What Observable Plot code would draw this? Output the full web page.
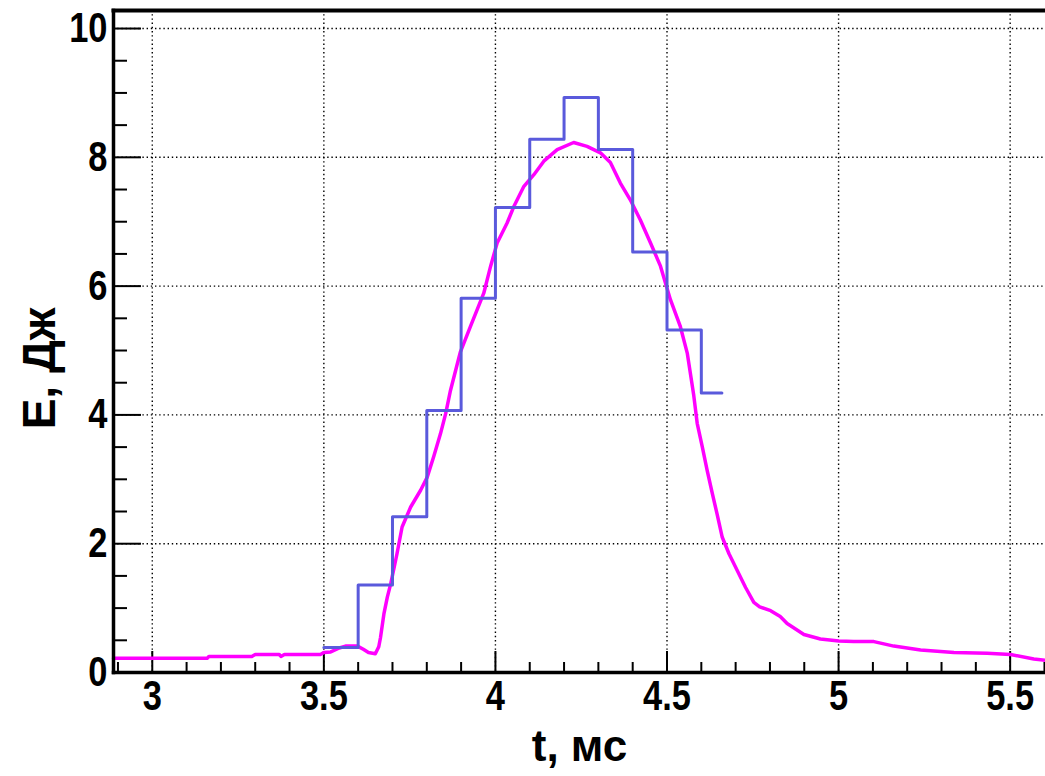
<!DOCTYPE html>
<html>
<head>
<meta charset="utf-8">
<script src="https://cdn.jsdelivr.net/npm/d3@7"></script>
<script src="https://cdn.jsdelivr.net/npm/@observablehq/plot@0.6"></script>
<style>
  html, body { margin: 0; padding: 0; background: #fff; }
  #chart svg { display: block; }
</style>
</head>
<body>
<div id="chart"></div>
<script>
// Magenta curve (measured signal): time t, ms and energy E, J
const curveT = [2.887, 3.16, 3.165, 3.29, 3.30, 3.37, 3.375, 3.385, 3.49, 3.50, 3.52, 3.545, 3.563, 3.598, 3.615, 3.63, 3.65, 3.66, 3.665, 3.675, 3.685, 3.695, 3.713, 3.728, 3.753, 3.782, 3.801, 3.820, 3.840, 3.855, 3.869, 3.898, 3.927, 3.966, 3.986, 4.005, 4.034, 4.054, 4.083, 4.112, 4.141, 4.180, 4.228, 4.267, 4.306, 4.335, 4.364, 4.393, 4.422, 4.452, 4.481, 4.510, 4.539, 4.559, 4.578, 4.588, 4.603, 4.617, 4.632, 4.646, 4.661, 4.681, 4.705, 4.729, 4.753, 4.77, 4.802, 4.83, 4.85, 4.899, 4.947, 5.001, 5.044, 5.103, 5.161, 5.239, 5.336, 5.433, 5.501, 5.569, 5.603];
const curveE = [0.22, 0.22, 0.25, 0.25, 0.28, 0.28, 0.25, 0.28, 0.28, 0.31, 0.32, 0.38, 0.41, 0.41, 0.36, 0.31, 0.29, 0.40, 0.54, 0.91, 1.17, 1.38, 1.84, 2.26, 2.57, 2.83, 3.03, 3.35, 3.71, 4.02, 4.38, 4.98, 5.37, 5.89, 6.31, 6.67, 6.98, 7.24, 7.55, 7.73, 7.94, 8.12, 8.23, 8.17, 8.07, 7.92, 7.60, 7.34, 7.03, 6.67, 6.31, 5.79, 5.37, 4.96, 4.30, 3.87, 3.50, 3.14, 2.78, 2.46, 2.10, 1.84, 1.58, 1.32, 1.09, 1.02, 0.96, 0.87, 0.76, 0.59, 0.52, 0.49, 0.48, 0.48, 0.41, 0.35, 0.31, 0.30, 0.28, 0.21, 0.19];

// Blue histogram: bin starts, bin values, and end of the last bin
const histStart = [3.5, 3.6, 3.7, 3.8, 3.9, 4.0, 4.1, 4.2, 4.3, 4.4, 4.5, 4.6];
const histE = [0.39, 1.36, 2.42, 4.07, 5.81, 7.22, 8.28, 8.93, 8.12, 6.53, 5.32, 4.34];
const histEnd = 4.66;

// Axis ticks
const xMajor = [3, 3.5, 4, 4.5, 5, 5.5];
const xMinor = [2.9, 3.1, 3.2, 3.3, 3.4, 3.6, 3.7, 3.8, 3.9, 4.1, 4.2, 4.3, 4.4, 4.6, 4.7, 4.8, 4.9, 5.1, 5.2, 5.3, 5.4, 5.6];
const yMajor = [0, 2, 4, 6, 8, 10];
const yMinor = [0.5, 1, 1.5, 2.5, 3, 3.5, 4.5, 5, 5.5, 6.5, 7, 7.5, 8.5, 9, 9.5];
const xDomain = [2.887, 5.603];
const yDomain = [0, 10.28];

const curve = curveT.map((t, i) => ({t, E: curveE[i]}));
const hist = histStart.map((t, i) => ({t, E: histE[i]}));
hist.push({t: histEnd, E: histE[histE.length - 1]});

const W = 1045, H = 776, mL = 113, mT = 10, mR = 0, mB = 104;
const frameW = W - mL - mR, frameH = H - mT - mB;
const font = "'Liberation Sans', Arial, sans-serif";

const chart = Plot.plot({
  width: W, height: H,
  marginLeft: mL, marginTop: mT, marginRight: mR, marginBottom: mB,
  x: {domain: xDomain},
  y: {domain: yDomain},
  style: {fontFamily: font, fontWeight: "bold", background: "#fff"},
  marks: [
    Plot.gridX(xMajor, {stroke: "#000", strokeOpacity: 1, strokeWidth: 1.4, strokeDasharray: "1.4,2.8"}),
    Plot.gridY(yMajor.filter(d => d > 0), {stroke: "#000", strokeOpacity: 1, strokeWidth: 1.4, strokeDasharray: "1.4,2.8"}),
    // inward ticks
    Plot.tickX(xMajor, {x: d => d, stroke: "#000", strokeWidth: 2, insetTop: frameH - 21}),
    Plot.tickX(xMinor, {x: d => d, stroke: "#000", strokeWidth: 2, insetTop: frameH - 10}),
    Plot.tickY(yMajor, {y: d => d, stroke: "#000", strokeWidth: 2, insetRight: frameW - 28}),
    Plot.tickY(yMinor, {y: d => d, stroke: "#000", strokeWidth: 2, insetRight: frameW - 14}),
    Plot.line(curve, {x: "t", y: "E", stroke: "#ff00ff", strokeWidth: 3.5, curve: "linear"}),
    Plot.line(hist, {x: "t", y: "E", stroke: "#5a5adc", strokeWidth: 3, curve: "step-after"}),
    // frame lines
    Plot.frame({anchor: "bottom", stroke: "#000", strokeWidth: 3.5}),
    Plot.frame({anchor: "left", stroke: "#000", strokeWidth: 3.5}),
    Plot.frame({anchor: "top", stroke: "#000", strokeWidth: 4}),
    // tick labels
    Plot.axisX(xMajor, {tickSize: 0, tickPadding: 8, fontSize: 42, fontWeight: "bold", label: null, tickFormat: d => String(d)}),
    Plot.axisY(yMajor, {tickSize: 0, tickPadding: 6, fontSize: 42, fontWeight: "bold", label: null, tickFormat: d => String(d)}),
    // axis titles
    Plot.text(["t, мс"], {text: d => d, frameAnchor: "bottom", lineAnchor: "middle", textAnchor: "middle", dy: 74, fontSize: 44, fontWeight: "bold", fill: "#000"}),
    Plot.text(["E, Дж"], {text: d => d, frameAnchor: "left", lineAnchor: "middle", textAnchor: "middle", dx: -73, dy: 27, rotate: -90, fontSize: 46, fontWeight: "bold", fill: "#000", letterSpacing: 2})
  ]
});
// condensed look of the tick labels
d3.select(chart).selectAll("g[aria-label='x-axis tick label'] text, g[aria-label='y-axis tick label'] text")
  .attr("transform", function() { return (this.getAttribute("transform") || "") + " scale(0.82,1)"; });
document.getElementById("chart").appendChild(chart);
</script>
</body>
</html>
